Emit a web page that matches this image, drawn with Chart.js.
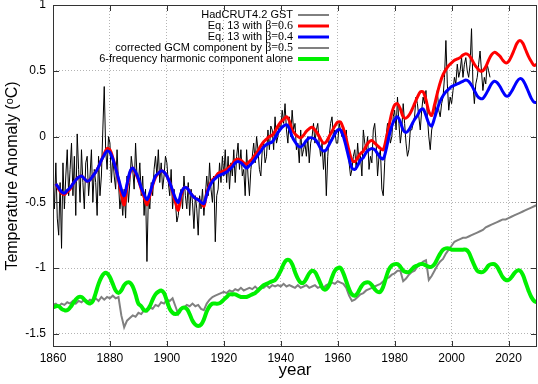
<!DOCTYPE html>
<html>
<head>
<meta charset="utf-8">
<script src="https://cdn.jsdelivr.net/npm/chart.js@4.4.0/dist/chart.umd.min.js"></script>
<style>
  html, body { margin: 0; padding: 0; background: #fff; }
  canvas { display: block; }
</style>
</head>
<body>
<canvas id="chart" width="538" height="384"></canvas>
<script>
// axis ticks
const xTicks = [1860, 1880, 1900, 1920, 1940, 1960, 1980, 2000, 2020];
const yTicks = [-1.5, -1, -0.5, 0, 0.5, 1];

// HadCRUT4.2 GST, two readings per year from 1860.0
const hadStart = 1860;
const hadValues = [
  -0.30, -0.55, -0.20, -0.62, -0.75, -0.35, -0.85, -0.20, -0.55, -0.30,
  -0.10, -0.45, -0.25, -0.05, -0.45, -0.15, -0.60, 0.02, -0.25, -0.50,
  -0.10, -0.35, -0.55, -0.20, -0.15, -0.45, -0.30, -0.10, -0.50, -0.25,
  -0.35, -0.60, -0.15, -0.45, -0.30, 0.05, 0.38, -0.10, -0.25, 0.00,
  -0.05, -0.35, -0.15, -0.30, -0.40, -0.10, -0.35, -0.55, -0.45, -0.60,
  -0.40, -0.62, -0.30, -0.50, -0.35, -0.15, -0.25, -0.40, -0.05, -0.30,
  -0.35, -0.20, -0.45, -0.30, -0.60, -0.40, -0.95, -0.45, -0.55, -0.35,
  -0.45, -0.25, -0.15, -0.30, -0.10, -0.35, -0.20, -0.40, -0.30, -0.15,
  -0.20, -0.35, -0.45, -0.25, -0.55, -0.40, -0.50, -0.65, -0.60, -0.45,
  -0.40, -0.55, -0.30, -0.45, -0.55, -0.35, -0.60, -0.40, -0.50, -0.70,
  -0.45, -0.55, -0.75, -0.45, -0.55, -0.40, -0.60, -0.45, -0.30, -0.45,
  -0.20, -0.40, -0.50, -0.30, -0.80, -0.45, -0.40, -0.20, -0.35, -0.15,
  -0.30, -0.10, -0.35, -0.15, -0.40, -0.20, -0.30, -0.10, -0.35, -0.15,
  -0.05, -0.25, -0.10, -0.30, -0.25, -0.45, -0.10, -0.30, -0.45, -0.25,
  -0.15, -0.05, -0.20, 0.00, -0.10, -0.25, -0.30, -0.10, -0.05, -0.20,
  -0.15, 0.05, -0.10, 0.08, 0.05, -0.10, 0.15, -0.05, 0.00, 0.10,
  0.05, 0.20, 0.10, 0.25, 0.05, -0.05, 0.15, 0.00, 0.20, 0.05,
  0.10, -0.10, -0.05, -0.20, 0.05, -0.15, -0.10, -0.05, -0.15, 0.00,
  -0.20, -0.05, 0.00, 0.10, -0.05, 0.05, 0.10, -0.05, -0.15, -0.05,
  -0.25, -0.10, -0.45, -0.15, 0.00, 0.10, 0.15, 0.00, 0.05, -0.05,
  -0.05, 0.10, 0.05, 0.00, 0.08, -0.05, 0.05, -0.10, -0.20, -0.30,
  -0.25, -0.15, -0.10, -0.25, -0.05, -0.20, -0.15, -0.30, 0.05, -0.05,
  -0.10, 0.00, -0.25, -0.15, -0.20, 0.05, 0.10, -0.05, -0.30, -0.15,
  -0.10, -0.40, -0.45, -0.20, 0.00, 0.10, 0.05, -0.05, 0.00, 0.15,
  0.20, 0.05, 0.30, 0.10, -0.05, 0.05, 0.25, 0.10, -0.05, -0.15,
  -0.10, 0.05, 0.05, 0.10, 0.15, 0.30, 0.25, 0.15, 0.05, 0.20,
  0.30, 0.25, 0.35, 0.15, 0.00, -0.10, 0.05, 0.10, 0.15, 0.25,
  0.35, 0.20, 0.15, 0.25, 0.30, 0.45, 0.73, 0.40, 0.20, 0.30,
  0.25, 0.35, 0.45, 0.40, 0.55, 0.45, 0.50, 0.60, 0.45, 0.55,
  0.60, 0.50, 0.45, 0.55, 0.82, 0.40, 0.25, 0.40, 0.45, 0.55,
  0.65, 0.50, 0.35, 0.45, 0.40, 0.55, 0.50, 0.45
];

// Eq. 13 model curves, yearly from 1861
const modelStart = 1861;
const beta06Values = [
  -0.36, -0.40, -0.43, -0.44, -0.42, -0.40, -0.36, -0.33, -0.31, -0.30,
  -0.32, -0.34, -0.33, -0.30, -0.27, -0.23, -0.18, -0.13, -0.09, -0.10,
  -0.16, -0.24, -0.33, -0.44, -0.52, -0.38, -0.28, -0.24, -0.28, -0.33,
  -0.40, -0.46, -0.52, -0.45, -0.37, -0.31, -0.28, -0.26, -0.27, -0.30,
  -0.35, -0.42, -0.50, -0.56, -0.45, -0.39, -0.39, -0.42, -0.45, -0.47,
  -0.48, -0.50, -0.53, -0.43, -0.37, -0.33, -0.31, -0.28, -0.27, -0.26,
  -0.25, -0.23, -0.21, -0.18, -0.17, -0.18, -0.20, -0.21, -0.19, -0.17,
  -0.14, -0.11, -0.07, -0.04, -0.02, 0.00, 0.01, 0.04, 0.08, 0.11,
  0.13, 0.15, 0.12, 0.05, 0.02, 0.00, -0.01, 0.01, 0.04, 0.06,
  0.07, 0.05, 0.02, -0.02, -0.05, -0.04, 0.00, 0.04, 0.08, 0.11,
  0.11, 0.06, -0.02, -0.11, -0.18, -0.19, -0.16, -0.13, -0.11, -0.07,
  -0.04, -0.03, -0.05, -0.07, -0.09, -0.10, -0.02, 0.08, 0.18, 0.24,
  0.25, 0.21, 0.15, 0.14, 0.16, 0.20, 0.25, 0.30, 0.34, 0.34,
  0.28, 0.19, 0.16, 0.24, 0.33, 0.41, 0.47, 0.51, 0.54, 0.56,
  0.58, 0.59, 0.60, 0.62, 0.63, 0.62, 0.59, 0.55, 0.52, 0.50,
  0.50, 0.53, 0.58, 0.62, 0.64, 0.63, 0.61, 0.58, 0.56, 0.57,
  0.61, 0.66, 0.71, 0.73, 0.71, 0.66, 0.61, 0.57, 0.54, 0.55
];
const beta04Values = [
  -0.36, -0.39, -0.42, -0.43, -0.41, -0.39, -0.36, -0.33, -0.31, -0.30,
  -0.32, -0.34, -0.33, -0.30, -0.27, -0.23, -0.18, -0.14, -0.11, -0.12,
  -0.17, -0.24, -0.32, -0.40, -0.45, -0.36, -0.27, -0.24, -0.27, -0.32,
  -0.39, -0.44, -0.48, -0.43, -0.36, -0.30, -0.28, -0.26, -0.27, -0.30,
  -0.35, -0.41, -0.47, -0.50, -0.43, -0.39, -0.39, -0.42, -0.45, -0.47,
  -0.48, -0.50, -0.51, -0.44, -0.38, -0.34, -0.32, -0.30, -0.29, -0.28,
  -0.27, -0.25, -0.23, -0.20, -0.19, -0.20, -0.22, -0.24, -0.22, -0.20,
  -0.17, -0.14, -0.11, -0.08, -0.06, -0.05, -0.04, -0.01, 0.03, 0.06,
  0.08, 0.09, 0.06, 0.00, -0.04, -0.07, -0.08, -0.06, -0.03, -0.01,
  -0.01, -0.02, -0.05, -0.09, -0.11, -0.10, -0.06, -0.02, 0.02, 0.05,
  0.05, 0.00, -0.08, -0.17, -0.24, -0.25, -0.22, -0.18, -0.16, -0.12,
  -0.10, -0.09, -0.10, -0.13, -0.16, -0.17, -0.10, 0.00, 0.08, 0.13,
  0.15, 0.11, 0.05, 0.03, 0.05, 0.09, 0.13, 0.16, 0.20, 0.21,
  0.16, 0.10, 0.08, 0.14, 0.21, 0.27, 0.31, 0.34, 0.36, 0.38,
  0.39, 0.40, 0.41, 0.42, 0.43, 0.42, 0.39, 0.35, 0.31, 0.29,
  0.29, 0.32, 0.36, 0.40, 0.42, 0.41, 0.38, 0.34, 0.31, 0.31,
  0.34, 0.38, 0.42, 0.44, 0.43, 0.39, 0.34, 0.29, 0.26, 0.26
];

// lower curves, yearly from 1860
const lowerStart = 1860;
const gcmValues = [
  -1.28,
  -1.27, -1.29, -1.27, -1.28, -1.26, -1.27, -1.25, -1.27, -1.25, -1.26,
  -1.24, -1.26, -1.24, -1.25, -1.23, -1.25, -1.22, -1.24, -1.22, -1.23,
  -1.21, -1.23, -1.22, -1.36, -1.45, -1.40, -1.38, -1.36, -1.37, -1.34,
  -1.35, -1.32, -1.33, -1.30, -1.31, -1.28, -1.29, -1.26, -1.27, -1.24,
  -1.25, -1.23, -1.29, -1.35, -1.31, -1.30, -1.28, -1.29, -1.27, -1.29,
  -1.28, -1.31, -1.32, -1.27, -1.24, -1.22, -1.21, -1.20, -1.19, -1.18,
  -1.19, -1.17, -1.18, -1.16, -1.17, -1.15, -1.17, -1.16, -1.15, -1.16,
  -1.14, -1.16, -1.14, -1.15, -1.13, -1.15, -1.13, -1.14, -1.13, -1.14,
  -1.12, -1.14, -1.13, -1.14, -1.15, -1.13, -1.15, -1.14, -1.13, -1.15,
  -1.14, -1.13, -1.15, -1.14, -1.15, -1.13, -1.12, -1.11, -1.12, -1.10,
  -1.11, -1.12, -1.15, -1.21, -1.25, -1.24, -1.22, -1.20, -1.19, -1.17,
  -1.16, -1.15, -1.14, -1.13, -1.12, -1.10, -1.08, -1.07, -1.05, -1.04,
  -1.02, -1.02, -1.10, -1.08, -1.05, -1.03, -1.02, -0.99, -0.97, -0.95,
  -0.94, -1.09, -1.06, -1.02, -0.98, -0.95, -0.93, -0.89, -0.86, -0.83,
  -0.80, -0.79, -0.78, -0.77, -0.77, -0.76, -0.75, -0.74, -0.73, -0.72,
  -0.71, -0.69, -0.68, -0.67, -0.66, -0.65, -0.64, -0.63, -0.63, -0.62,
  -0.61, -0.60, -0.59, -0.58, -0.57, -0.56, -0.55, -0.54, -0.53, -0.52
];
const harmonicValues = [
  -1.30,
  -1.29, -1.29, -1.31, -1.32, -1.32, -1.30, -1.27, -1.24, -1.22, -1.22,
  -1.24, -1.26, -1.27, -1.25, -1.19, -1.12, -1.07, -1.04, -1.04, -1.07,
  -1.12, -1.17, -1.19, -1.17, -1.13, -1.11, -1.11, -1.14, -1.20, -1.27,
  -1.29, -1.32, -1.32, -1.29, -1.24, -1.20, -1.18, -1.17, -1.19, -1.25,
  -1.31, -1.34, -1.35, -1.34, -1.31, -1.30, -1.31, -1.35, -1.40, -1.43,
  -1.44, -1.43, -1.39, -1.33, -1.29, -1.27, -1.27, -1.27, -1.26, -1.24,
  -1.22, -1.20, -1.20, -1.20, -1.21, -1.22, -1.22, -1.22, -1.21, -1.20,
  -1.19, -1.17, -1.15, -1.13, -1.12, -1.11, -1.10, -1.09, -1.06, -1.02,
  -0.97, -0.94, -0.94, -0.97, -1.03, -1.08, -1.11, -1.11, -1.08, -1.04,
  -1.02, -1.03, -1.07, -1.12, -1.16, -1.16, -1.13, -1.07, -1.02, -1.00,
  -1.00, -1.04, -1.10, -1.16, -1.20, -1.21, -1.19, -1.15, -1.12, -1.11,
  -1.11, -1.13, -1.16, -1.18, -1.18, -1.14, -1.07, -1.01, -0.98, -0.97,
  -0.97, -0.99, -1.02, -1.03, -1.03, -1.01, -0.99, -0.98, -0.97, -0.97,
  -0.98, -0.99, -0.99, -0.97, -0.93, -0.89, -0.86, -0.85, -0.85, -0.86,
  -0.86, -0.86, -0.86, -0.86, -0.86, -0.88, -0.93, -0.98, -1.02, -1.03,
  -1.03, -1.01, -0.98, -0.97, -0.97, -0.99, -1.03, -1.07, -1.09, -1.09,
  -1.07, -1.04, -1.02, -1.02, -1.05, -1.11, -1.17, -1.22, -1.25, -1.26
];

function toPoints(start, step, values) {
  return values.map((v, i) => ({ x: start + i * step, y: v }));
}

const SANS = "'Liberation Sans', Arial, sans-serif";
const SERIF = "'Liberation Serif', 'Times New Roman', serif";

// gnuplot style key: right aligned text, sample line on the right
const keyPlugin = {
  id: "gnuKey",
  afterDraw(chart) {
    const ctx = chart.ctx;
    const textRight = 293;
    const lineX0 = 298;
    const lineX1 = 329;
    ctx.save();
    ctx.textBaseline = "middle";
    chart.data.datasets.forEach((ds, i) => {
      const y = 15 + i * 11;
      const parts = ds.label.split("β");
      let x = textRight;
      ctx.fillStyle = "#000";
      if (parts.length > 1) {
        ctx.font = "12px " + SERIF;
        ctx.textAlign = "right";
        const tail = "β" + parts[1];
        ctx.fillText(tail, x, y);
        x -= ctx.measureText(tail).width;
      }
      ctx.font = "11px " + SANS;
      ctx.textAlign = "right";
      ctx.fillText(parts[0], x, y);
      ctx.strokeStyle = ds.borderColor;
      ctx.lineWidth = ds.borderWidth;
      ctx.beginPath();
      ctx.moveTo(lineX0, y);
      ctx.lineTo(lineX1, y);
      ctx.stroke();
    });
    ctx.restore();
  }
};

// full border box with inward tick marks
const framePlugin = {
  id: "frame",
  afterDraw(chart) {
    const { ctx, chartArea: a, scales } = chart;
    ctx.save();
    ctx.strokeStyle = "#333";
    ctx.lineWidth = 1;
    ctx.strokeRect(Math.round(a.left) + 0.5, Math.round(a.top) + 0.5,
      Math.round(a.right - a.left) - 1, Math.round(a.bottom - a.top) - 1);
    ctx.beginPath();
    yTicks.forEach(v => {
      const y = Math.round(scales.y.getPixelForValue(v)) + 0.5;
      ctx.moveTo(a.left, y); ctx.lineTo(a.left + 6, y);
      ctx.moveTo(a.right, y); ctx.lineTo(a.right - 6, y);
    });
    xTicks.forEach(v => {
      const x = Math.round(scales.x.getPixelForValue(v)) + 0.5;
      ctx.moveTo(x, a.bottom); ctx.lineTo(x, a.bottom - 6);
      ctx.moveTo(x, a.top); ctx.lineTo(x, a.top + 6);
    });
    ctx.stroke();
    ctx.restore();
  }
};

const lineDefaults = { pointRadius: 0, fill: false, spanGaps: true };

new Chart(document.getElementById("chart"), {
  type: "line",
  data: {
    datasets: [
      {
        ...lineDefaults,
        label: "HadCRUT4.2 GST",
        data: toPoints(hadStart, 0.5, hadValues),
        borderColor: "#000000",
        borderWidth: 1,
        tension: 0,
        order: 5
      },
      {
        ...lineDefaults,
        label: "Eq. 13 with β=0.6",
        data: toPoints(modelStart, 1, beta06Values),
        borderColor: "#ff0000",
        borderWidth: 3,
        tension: 0.3,
        order: 2
      },
      {
        ...lineDefaults,
        label: "Eq. 13 with β=0.4",
        data: toPoints(modelStart, 1, beta04Values),
        borderColor: "#0000ff",
        borderWidth: 3,
        tension: 0.3,
        order: 1
      },
      {
        ...lineDefaults,
        label: "corrected GCM component by β=0.5",
        data: toPoints(lowerStart, 1, gcmValues),
        borderColor: "#808080",
        borderWidth: 2,
        tension: 0,
        order: 4
      },
      {
        ...lineDefaults,
        label: "6-frequency harmonic component alone",
        data: toPoints(lowerStart, 1, harmonicValues),
        borderColor: "#00f000",
        borderWidth: 4,
        tension: 0.4,
        order: 3
      }
    ]
  },
  options: {
    responsive: false,
    animation: false,
    events: [],
    layout: { padding: { left: 0, top: 5, right: 1, bottom: 0 } },
    plugins: {
      legend: { display: false },
      tooltip: { enabled: false }
    },
    scales: {
      x: {
        type: "linear",
        min: 1860,
        max: 2030,
        afterBuildTicks: scale => { scale.ticks = xTicks.map(v => ({ value: v })); },
        afterFit: scale => {
          scale.height = 37;
          scale.paddingLeft = 0;
          scale.paddingRight = 0;
        },
        ticks: {
          color: "#000",
          padding: 4,
          maxRotation: 0,
          font: { family: SANS, size: 12 },
          callback: v => String(v)
        },
        grid: { color: "#b4b4b4", lineWidth: 1, drawTicks: false },
        border: { display: false, dash: [1, 2] },
        title: {
          display: true,
          text: "year",
          color: "#000",
          font: { family: SANS, size: 17 },
          padding: { top: 0, bottom: 3 }
        }
      },
      y: {
        type: "linear",
        min: -1.6,
        max: 1,
        afterBuildTicks: scale => { scale.ticks = yTicks.map(v => ({ value: v })); },
        afterFit: scale => {
          scale.width = 53;
          scale.paddingTop = 0;
          scale.paddingBottom = 0;
        },
        ticks: {
          color: "#000",
          padding: 7,
          font: { family: SANS, size: 12 },
          callback: v => String(v)
        },
        grid: { color: "#b4b4b4", lineWidth: 1, drawTicks: false },
        border: { display: false, dash: [1, 2] },
        title: {
          display: true,
          text: "Temperature Anomaly (ᵒC)",
          color: "#000",
          font: { family: SANS, size: 16 },
          padding: { top: 3, bottom: 0 }
        }
      }
    }
  },
  plugins: [keyPlugin, framePlugin]
});
</script>
</body>
</html>
